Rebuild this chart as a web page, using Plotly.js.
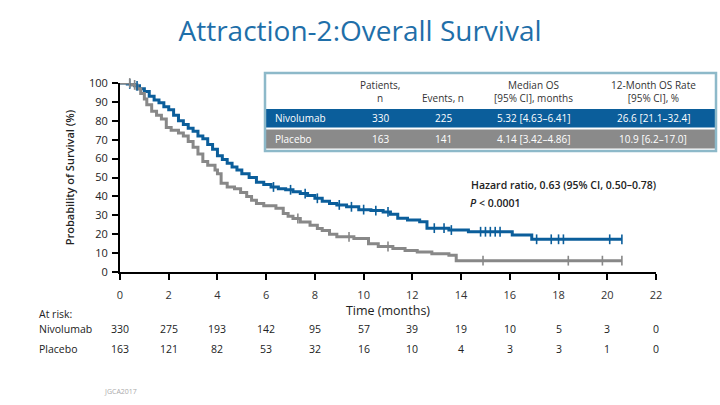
<!DOCTYPE html>
<html>
<head>
<meta charset="utf-8">
<script src="https://cdn.plot.ly/plotly-3.0.1.min.js"></script>
<style>html,body{margin:0;padding:0;background:#fff}#chart{width:720px;height:405px}</style>
</head>
<body>
<div id="chart"></div>
<script>
// ---- data ----
var nivoT = [0,0.3,0.6,0.8,1.0,1.2,1.4,1.6,1.8,2.0,2.2,2.4,2.6,2.8,3.0,3.2,3.4,3.6,3.8,4.0,4.2,4.4,4.6,4.8,5.0,5.3,5.6,5.9,6.2,6.5,6.8,7.1,7.4,7.7,8.0,8.3,8.6,8.9,9.3,9.8,10.3,10.8,11.1,11.4,11.8,12.3,12.6,13.5,14.3,16.1,16.9,20.6];
var nivoS = [100,99.5,98.5,97,95.5,93,91,89.5,87.5,85.8,83,80,78,76,74.5,72,70.5,67.5,65,61.5,59.5,57.5,55.5,54,52,50,47.5,46.3,45,44,43.5,42.5,41.5,40.5,39,37.5,36.3,35.5,34.5,33,32.5,31.8,30.5,28.4,27.5,26.6,23.2,22.2,21.3,19.6,17.3,17.3];
var plaT = [0,0.5,0.7,0.85,1.0,1.1,1.3,1.5,1.7,1.9,2.1,2.4,2.6,2.8,3.0,3.2,3.4,3.6,3.9,4.0,4.15,4.4,4.7,4.95,5.2,5.4,5.6,5.9,6.4,6.7,6.9,7.1,7.4,7.8,8.1,8.3,8.6,8.9,9.6,10.2,10.6,11.2,11.7,12.2,12.8,13.5,13.8,20.6];
var plaS = [100,99,97,94.5,91.5,88.5,85,83,81,76.5,75,73.5,72,69,66,62.5,58.5,56.5,54,52,47,45,44,42,40,38,36.3,35,33.7,31,29.5,28.3,26.5,24.8,23,22,20,18.6,17.7,15,13.5,12.4,11.4,10.6,9.6,8.8,6,6];
var nivoCensor = [0.4,0.7,6.3,7.0,7.6,8.1,9.0,9.5,10.0,10.5,11.0,12.9,13.3,13.6,14.8,15.0,15.2,15.4,15.6,17.1,17.7,18.0,18.2,20.1,20.6];
var plaCensor = [0.4,0.6,7.3,9.4,11.0,14.9,18.4,19.8,20.6];
var riskTimes = [0,2,4,6,8,10,12,14,16,18,20,22];
var riskNivo = [330,275,193,142,95,57,39,19,10,5,3,0];
var riskPla = [163,121,82,53,32,16,10,4,3,3,1,0];
var tableHeader = ["Patients,<br>n","Events, n","Median OS<br>[95% CI], months","12-Month OS Rate<br>[95% CI], %"];
var tableNivo = ["Nivolumab","330","225","5.32 [4.63–6.41]","26.6 [21.1–32.4]"];
var tablePla = ["Placebo","163","141","4.14 [3.42–4.86]","10.9 [6.2–17.0]"];
var hrText = "Hazard ratio, 0.63 (95% CI, 0.50–0.78)";
var pText = "<i>P</i> &lt; 0.0001";

// ---- helpers ----
function stepVal(T, S, t){ var v = S[0]; for (var i=0;i<T.length;i++){ if (T[i] <= t) v = S[i]; } return v; }
var L=120, R=656, TOP=83, BOT=272;
function pxX(p){ return (p-L)/(R-L); }
function pxY(p){ return (BOT-p)/(BOT-TOP); }

var BLUE = '#0b5e9b', GREY = '#888888';
var FONT = 'Open Sans, Noto Sans, sans-serif';

var traces = [
  {x:nivoT, y:nivoS, mode:'lines', line:{shape:'hv', color:BLUE, width:3}, cliponaxis:false, hoverinfo:'skip', showlegend:false},
  {x:plaT, y:plaS, mode:'lines', line:{shape:'hv', color:GREY, width:3}, cliponaxis:false, hoverinfo:'skip', showlegend:false},
  {x:nivoCensor, y:nivoCensor.map(function(t){return stepVal(nivoT,nivoS,t);}), mode:'markers', marker:{symbol:'line-ns-open', size:7, color:BLUE, line:{color:BLUE, width:1.6}}, cliponaxis:false, hoverinfo:'skip', showlegend:false},
  {x:plaCensor, y:plaCensor.map(function(t){return stepVal(plaT,plaS,t);}), mode:'markers', marker:{symbol:'line-ns-open', size:7, color:GREY, line:{color:GREY, width:1.6}}, cliponaxis:false, hoverinfo:'skip', showlegend:false}
];

var ann = [];
function addA(o){ ann.push(Object.assign({showarrow:false, xref:'paper', yref:'paper', font:{family:FONT, size:10, color:'#333'}}, o)); }

// table
var colX = [273, 380, 443, 533, 653];
tableHeader.forEach(function(h,i){
  addA({x:pxX(colX[i+1]), y:pxY(i===1?98:91), text:h, xanchor:'center', yanchor:'middle', font:{family:FONT,size:10,color:'#333'}});
});
[tableNivo, tablePla].forEach(function(row, r){
  var yy = r===0 ? 118 : 139;
  row.forEach(function(c,i){
    addA({x:pxX(colX[i]), y:pxY(yy), text:c, xanchor:i===0?'left':'center', yanchor:'middle', font:{family:FONT,size:10,color:'#ffffff'}});
  });
});

// hazard ratio
addA({x:pxX(469), y:pxY(185), text:hrText, xanchor:'left', yanchor:'middle', font:{family:FONT,size:10.5,color:'#222',weight:600}});
addA({x:pxX(468), y:pxY(203), text:pText, xanchor:'left', yanchor:'middle', font:{family:FONT,size:10.5,color:'#222',weight:600}});

// at risk
addA({x:pxX(37), y:pxY(314), text:'At risk:', xanchor:'left', yanchor:'middle', font:{family:FONT,size:10.5,color:'#222'}});
addA({x:pxX(37), y:pxY(329), text:'Nivolumab', xanchor:'left', yanchor:'middle', font:{family:FONT,size:10.5,color:'#222'}});
addA({x:pxX(37), y:pxY(349), text:'Placebo', xanchor:'left', yanchor:'middle', font:{family:FONT,size:10.5,color:'#222'}});
riskTimes.forEach(function(t,i){
  ann.push({x:t, xref:'x', y:pxY(329), yref:'paper', text:String(riskNivo[i]), showarrow:false, xanchor:'center', yanchor:'middle', font:{family:FONT,size:10.5,color:'#222'}});
  ann.push({x:t, xref:'x', y:pxY(349), yref:'paper', text:String(riskPla[i]), showarrow:false, xanchor:'center', yanchor:'middle', font:{family:FONT,size:10.5,color:'#222'}});
});

addA({x:pxX(102), y:pxY(391), text:'JGCA2017', xanchor:'left', yanchor:'middle', font:{family:FONT,size:7,color:'#aaaaaa'}});

var shapes = [
  {type:'rect', xref:'paper', yref:'paper', x0:pxX(266), x1:pxX(715), y0:pxY(109), y1:pxY(127.5), fillcolor:BLUE, line:{width:0}},
  {type:'rect', xref:'paper', yref:'paper', x0:pxX(266), x1:pxX(715), y0:pxY(129.5), y1:pxY(148.5), fillcolor:'#8a8a8a', line:{width:0}},
  {type:'rect', xref:'paper', yref:'paper', x0:pxX(265), x1:pxX(716), y0:pxY(73), y1:pxY(151), fillcolor:'rgba(0,0,0,0)', line:{color:'#8db9c9', width:2.5}}
];

var layout = {
  width:720, height:405,
  margin:{l:L, r:720-R, t:TOP, b:405-BOT, pad:0},
  paper_bgcolor:'#fff', plot_bgcolor:'#fff',
  font:{family:FONT, color:'#333'},
  title:{text:'Attraction-2:Overall Survival', x:0.5, xref:'container', xanchor:'center', y:1-31/405, yref:'container', yanchor:'middle', font:{family:FONT, size:28, color:'#1f6fa9'}},
  xaxis:{range:[0,22], tickvals:riskTimes, ticks:'outside', ticklen:6, tickwidth:2, tickcolor:'#000', showline:true, linewidth:2, linecolor:'#000', showgrid:false, zeroline:false, tickfont:{size:11, color:'#333'}, ticklabelstandoff:6, fixedrange:true,
    title:{text:'Time (months)', standoff:4, font:{size:12.5, color:'#222'}}},
  yaxis:{range:[0,100], dtick:10, ticks:'outside', ticklen:6, tickwidth:2, tickcolor:'#000', showline:true, linewidth:2, linecolor:'#000', showgrid:false, zeroline:false, tickfont:{size:11, color:'#222'}, ticklabelstandoff:2, fixedrange:true,
    title:{text:'Probability of Survival (%)', standoff:12, font:{size:11, color:'#222', weight:600}}},
  annotations:ann, shapes:shapes, showlegend:false
};
Plotly.newPlot('chart', traces, layout, {displayModeBar:false, staticPlot:true});
</script>
</body>
</html>
